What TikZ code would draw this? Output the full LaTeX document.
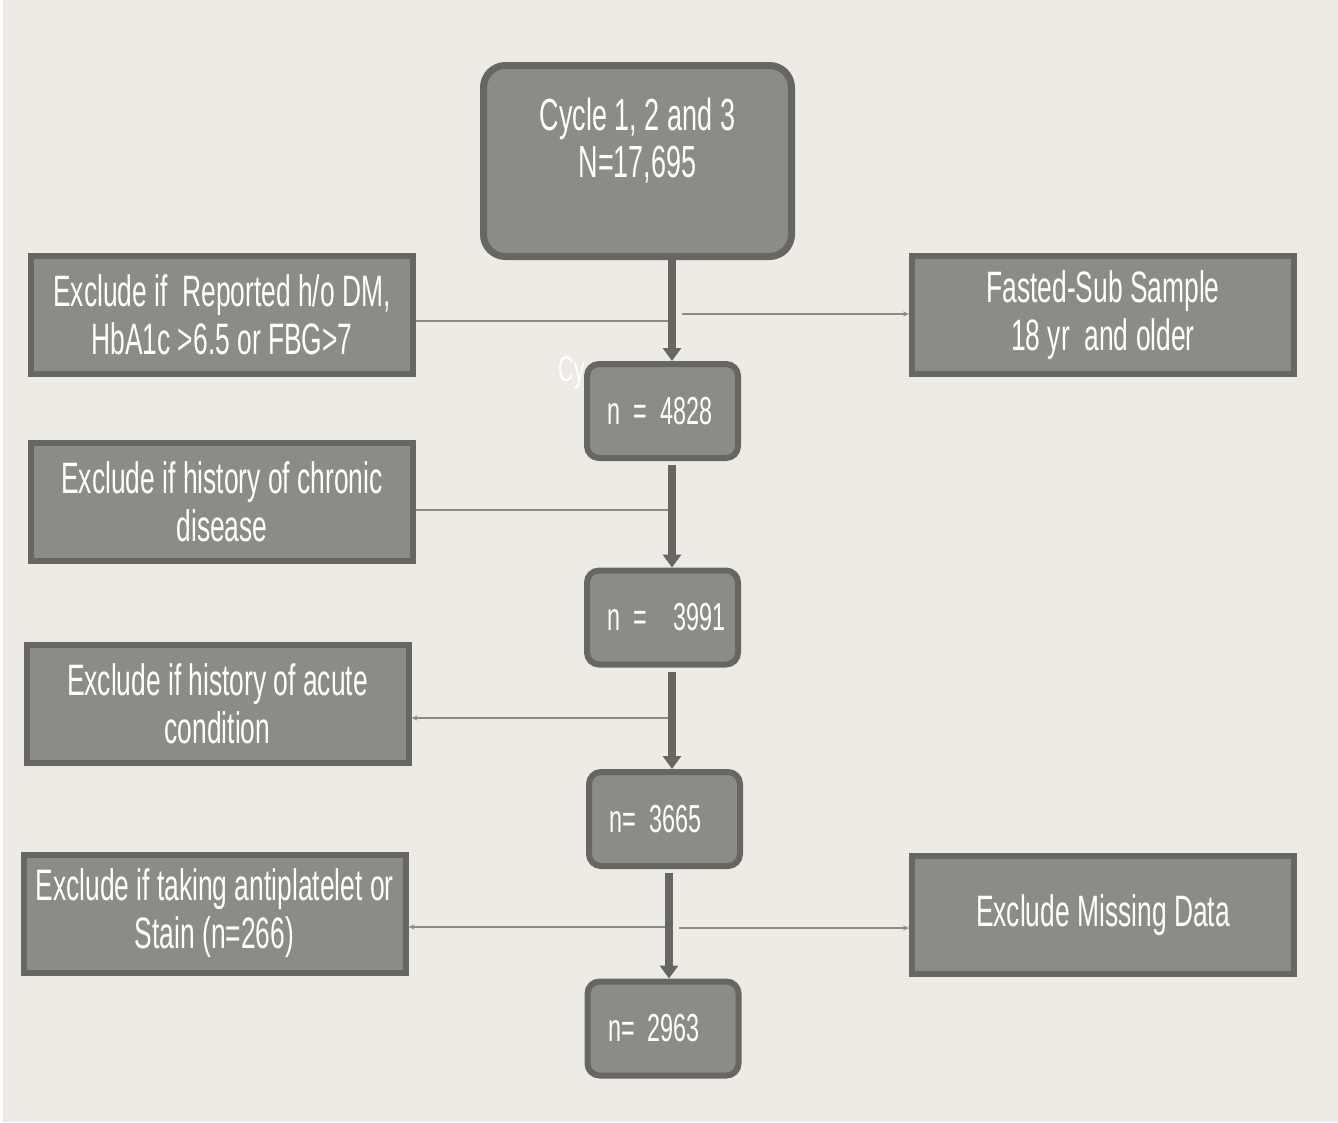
\documentclass[tikz,border=0pt]{standalone}
\usepackage{fontspec}
\setmainfont[FakeStretch=0.6]{Liberation Sans}
\newfontfamily\countfont[FakeStretch=0.6, WordSpace=0.6]{Liberation Sans}
\usepackage{tikz}
\usetikzlibrary{positioning, calc, arrows.meta}
\definecolor{bgcolor}{RGB}{238,235,228}
\definecolor{boxfill}{RGB}{139,140,134}
\definecolor{boxborder}{RGB}{102,103,98}
\definecolor{thincolor}{RGB}{138,139,132}
\tikzset{
  startbox/.style={
    draw=boxborder, fill=boxfill, line width=7pt, rounded corners=22pt,
    minimum width=308pt, minimum height=191pt, inner sep=0pt,
    align=center, text=white, font=\fontsize{45pt}{47pt}\selectfont
  },
  exclbox/.style={
    draw=boxborder, fill=boxfill, line width=6pt,
    minimum width=382pt, minimum height=118pt, inner sep=0pt,
    align=center, text=white, font=\fontsize{44pt}{48pt}\selectfont
  },
  countbox/.style={
    draw=boxborder, fill=boxfill, line width=6pt, rounded corners=12pt,
    minimum width=151pt, minimum height=94pt, text width=110pt, inner sep=0pt,
    align=left, text=white, font=\countfont\fontsize{39pt}{42pt}\selectfont
  },
  flow/.style={-{Triangle[width=18pt,length=13pt]}, line width=8.5pt, boxborder},
  % thin side connectors
  sideline/.style={line width=1.6pt, thincolor},
  sidetip/.style={sideline, -{Stealth[length=6pt,width=5pt]}},
}

\begin{document}
\begin{tikzpicture}[x=1pt, y=-1pt]

%% ── page background ───────────────────────────────────────────────
\fill[white] (0,0) rectangle (1338,1122);
\fill[bgcolor] (3,0) rectangle (1338,1122);
\useasboundingbox (0,0) rectangle (1338,1122);

%% ── main column ───────────────────────────────────────────────────
\node[startbox] (start) at (637.5,161) {Cycle 1, 2 and 3\\N=17,695\\\mbox{}};
\node[text=white, anchor=west, inner sep=0pt, font=\countfont\fontsize{36pt}{38pt}\selectfont] (ghost) at (558,373) {Cy};
\node[countbox] (n1) at (662.5,411)  {\mbox{n = 4828}};
\node[countbox] (n2) at (662.5,617.5) {\mbox{n = \ 3991}};
\node[countbox] (n3) at (664.5,819)  {\mbox{n= 3665}};
\node[countbox] (n4) at (663,1028.5) {\mbox{n= 2963}};

%% ── exclusion boxes ───────────────────────────────────────────────
\node[exclbox] (excl1) at (222,315)    {Exclude if \ Reported h/o DM,\\HbA1c >6.5 or FBG>7};
\node[exclbox] (fasted) at (1103,315)  {Fasted-Sub Sample\\18 yr \ and older};
\node[exclbox] (excl2) at (222,501.5)  {Exclude if history of chronic\\disease};
\node[exclbox] (excl3) at (217.5,703.5) {Exclude if history of acute\\condition};
\node[exclbox] (excl4) at (214.5,913.5) {Exclude if taking antiplatelet or\\Stain (n=266)};
\node[exclbox] (missing) at (1103,915) {Exclude Missing Data};

%% ── thin side connectors ──────────────────────────────────────────
\coordinate (d1l) at (668,321);
\coordinate (d1r) at (682,314);
\coordinate (d2l) at (668,510);
\coordinate (d3l) at (668,718);
\coordinate (d4l) at (668,927);
\coordinate (d4r) at (679,928);

\draw[sideline] (d1l) -- (d1l -| excl1.east);
\draw[sidetip]  (d1r) -- (d1r -| fasted.west);
\draw[sideline] (d2l) -- (d2l -| excl2.east);
\draw[sidetip]  (d3l) -- (d3l -| excl3.east);
\draw[sidetip]  (d4l) -- (d4l -| excl4.east);
\draw[sidetip]  (d4r) -- (d4r -| missing.west);

%% ── thick flow arrows ─────────────────────────────────────────────
\draw[flow] ([xshift=34.5pt]start.south) -- ([xshift=9.5pt]n1.north);
\foreach \from/\to/\dxa/\dxb in {n1/n2/9.5/9.5, n2/n3/9.5/7.5, n3/n4/4.5/6}
  \draw[flow, shorten <=4pt] ([xshift=\dxa pt]\from.south) -- ([xshift=\dxb pt]\to.north);

\end{tikzpicture}
\end{document}
